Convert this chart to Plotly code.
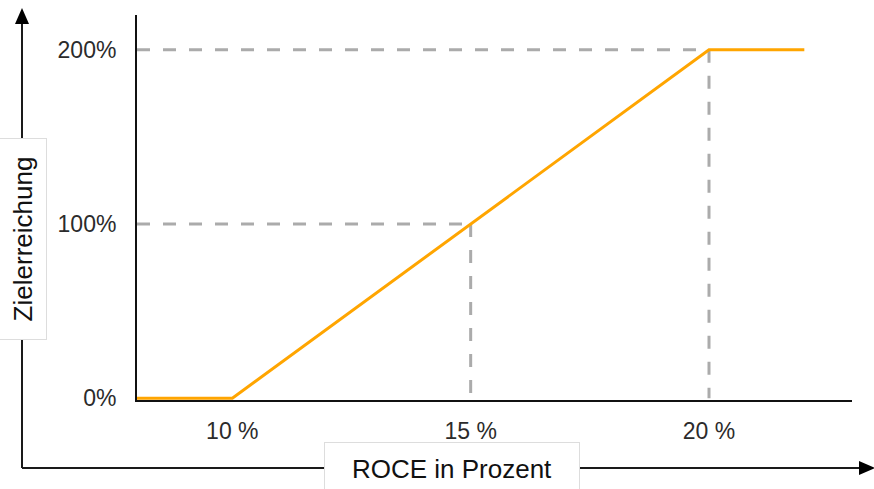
import plotly.graph_objects as go

# ---- data ----
roce = [8, 10, 20, 22]            # ROCE in %
target = [0, 0, 200, 200]         # Zielerreichung in %
ref_x = [15, 20]                  # reference points on the curve
ref_y = [100, 200]
x_ticks = [10, 15, 20]
x_ticktext = ["10 %", "15 %", "20 %"]
y_ticks = [0, 100, 200]
y_ticktext = ["0%", "100%", "200%"]

X_MIN, X_MAX = 8, 23
Y_MIN, Y_MAX = -1, 220

W, H = 874, 489
ML, MR, MT, MB = 137, 22, 15, 89
PW = W - ML - MR
PH = H - MT - MB

FONT = "Liberation Sans, Arial, sans-serif"
DASH_COL = "#ababab"
ORANGE = "#ffa500"

fig = go.Figure()

# dashed guide lines
for xv, yv in zip(ref_x, ref_y):
    fig.add_trace(go.Scatter(x=[X_MIN, xv], y=[yv, yv], mode="lines",
                             line=dict(color=DASH_COL, width=3, dash="13px,13px"),
                             hoverinfo="skip", showlegend=False))
    fig.add_trace(go.Scatter(x=[xv, xv], y=[yv, 0], mode="lines",
                             line=dict(color=DASH_COL, width=3, dash="13px,13px"),
                             hoverinfo="skip", showlegend=False))

# main curve
fig.add_trace(go.Scatter(x=roce, y=target, mode="lines",
                         line=dict(color=ORANGE, width=3),
                         showlegend=False))


def px_x(p):
    return (p - ML) / PW


def px_y(p):
    return (H - MB - p) / PH


shapes = []
# outer arrows (lines)
shapes.append(dict(type="line", xref="paper", yref="paper",
                   x0=px_x(22), y0=px_y(468), x1=px_x(22), y1=px_y(20),
                   line=dict(color="#1a1a1a", width=2)))
shapes.append(dict(type="line", xref="paper", yref="paper",
                   x0=px_x(22), y0=px_y(468), x1=px_x(860), y1=px_y(468),
                   line=dict(color="#1a1a1a", width=2)))


def tri(points):
    s = "M " + " L ".join(f"{px_x(a)},{px_y(b)}" for a, b in points) + " Z"
    return s


shapes.append(dict(type="path", xref="paper", yref="paper",
                   path=tri([(22, 8), (15, 24), (29, 24)]),
                   fillcolor="black", line=dict(color="black", width=0)))
shapes.append(dict(type="path", xref="paper", yref="paper",
                   path=tri([(875, 468), (859, 461), (859, 475)]),
                   fillcolor="black", line=dict(color="black", width=0)))

annotations = [
    dict(text="Zielerreichung", textangle=-90, xref="paper", yref="paper",
         x=px_x(23), y=px_y(239), xanchor="center", yanchor="middle",
         showarrow=False, font=dict(family=FONT, size=26, color="#111111"),
         bgcolor="white", bordercolor="#dddddd", borderwidth=1,
         width=198, height=44),
    dict(text="ROCE in Prozent", xref="paper", yref="paper",
         x=px_x(451.5), y=px_y(469), xanchor="center", yanchor="middle",
         showarrow=False, font=dict(family=FONT, size=26, color="#111111"),
         bgcolor="white", bordercolor="#dddddd", borderwidth=1,
         width=252, height=50),
]

fig.update_layout(
    width=W, height=H,
    margin=dict(l=ML, r=MR, t=MT, b=MB, pad=0),
    paper_bgcolor="white", plot_bgcolor="white",
    shapes=shapes, annotations=annotations,
    font=dict(family=FONT),
    xaxis=dict(range=[X_MIN, X_MAX], tickvals=x_ticks, ticktext=x_ticktext,
               showgrid=False, zeroline=False, showline=True,
               linecolor="#111111", linewidth=2, ticks="",
               tickfont=dict(family=FONT, size=23, color="#2b2b2b"),
               ticklabelstandoff=9, fixedrange=True),
    yaxis=dict(range=[Y_MIN, Y_MAX], tickvals=y_ticks, ticktext=y_ticktext,
               showgrid=False, zeroline=False, showline=True,
               linecolor="#111111", linewidth=2, ticks="",
               tickfont=dict(family=FONT, size=23, color="#2b2b2b"),
               ticklabelstandoff=14, fixedrange=True),
)

fig.write_html("out.html", config={"displayModeBar": False},
               post_script="document.body.style.margin='0';")
